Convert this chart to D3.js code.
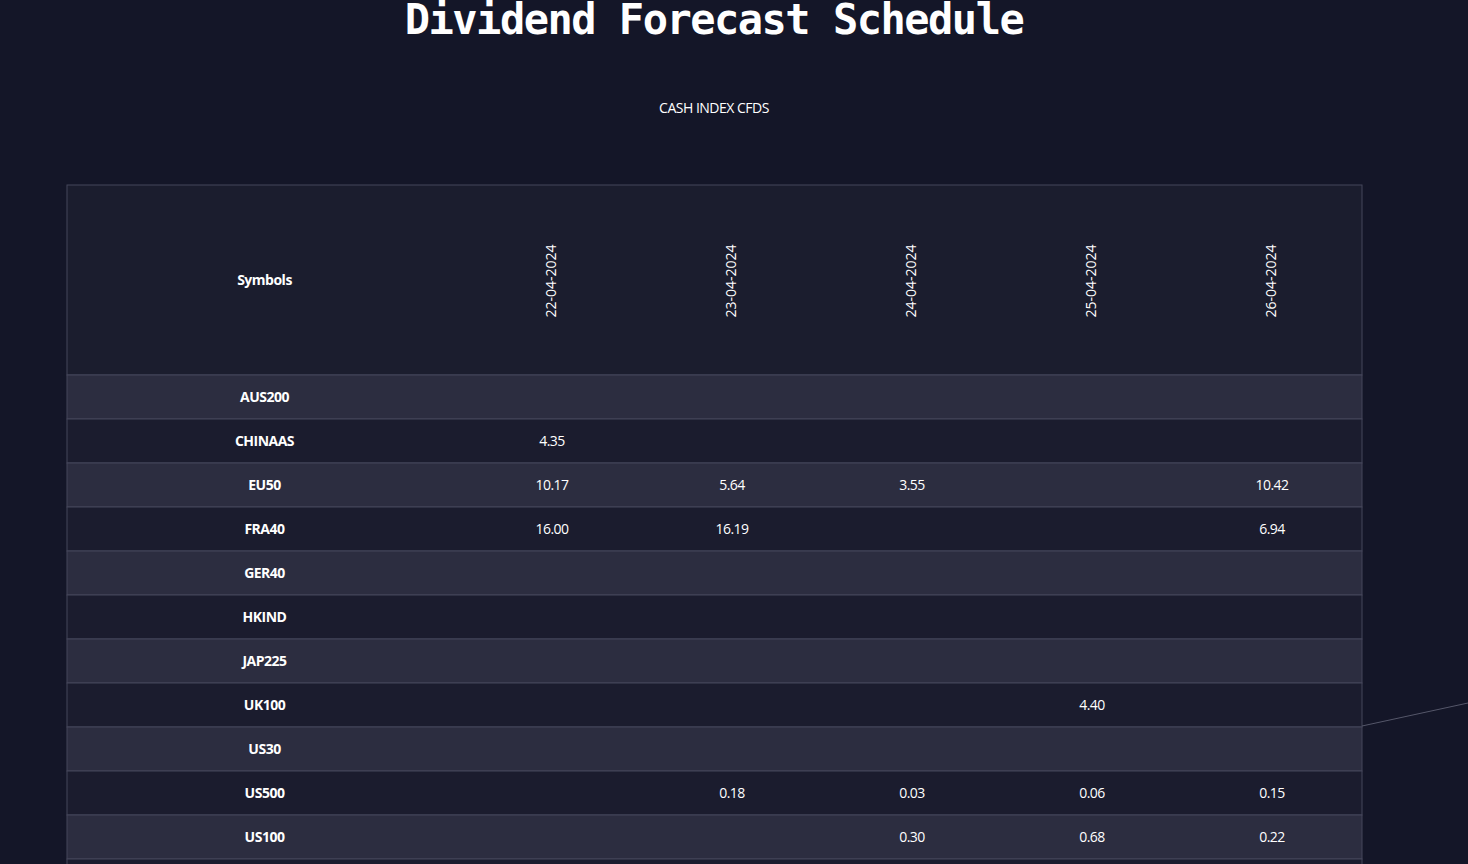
<!DOCTYPE html>
<html>
<head>
<script src="https://d3js.org/d3.v7.min.js"></script>
<style>
  body { margin: 0; background: #141628; overflow: hidden; }
</style>
</head>
<body>
<svg id="chart" width="1468" height="864"></svg>
<script>
  // data
  const symbols = ["AUS200", "CHINAAS", "EU50", "FRA40", "GER40", "HKIND", "JAP225", "UK100", "US30", "US500", "US100", "US2000"];
  const dates = ["22-04-2024", "23-04-2024", "24-04-2024", "25-04-2024", "26-04-2024"];
  // one array per date column, null = no dividend
  const d22 = [null, "4.35", "10.17", "16.00", null, null, null, null, null, null, null, null];
  const d23 = [null, null, "5.64", "16.19", null, null, null, null, null, "0.18", null, null];
  const d24 = [null, null, "3.55", null, null, null, null, null, null, "0.03", "0.30", null];
  const d25 = [null, null, null, null, null, null, null, "4.40", null, "0.06", "0.68", null];
  const d26 = [null, null, "10.42", "6.94", null, null, null, null, null, "0.15", "0.22", null];
  const columns = [d22, d23, d24, d25, d26];

  const svg = d3.select("#chart");
  const left = 67, right = 1362, headTop = 185, headBottom = 375, rowH = 44, symW = 395;

  svg.append("text").attr("x", 714).attr("y", 34).attr("text-anchor", "middle")
    .attr("fill", "#fff").attr("font-family", "DejaVu Sans Mono").attr("font-size", 42)
    .attr("font-weight", "bold").attr("letter-spacing", -1.5)
    .text("Dividend Forecast Schedule");
  svg.append("text").attr("x", 714).attr("y", 113).attr("text-anchor", "middle")
    .attr("fill", "#fff").attr("font-family", "Open Sans").attr("font-size", 14)
    .attr("letter-spacing", -0.5).text("CASH INDEX CFDS");

  const x = d3.scaleBand().domain(dates).range([left + symW, right]);
  const y = d3.scaleBand().domain(symbols).range([headBottom, headBottom + rowH * symbols.length]);

  // header
  svg.append("rect").attr("x", left).attr("y", headTop).attr("width", right - left)
    .attr("height", headBottom - headTop).attr("fill", "#1b1d2e").attr("stroke", "#44465a");
  svg.append("text").attr("x", left + symW / 2).attr("y", 285).attr("text-anchor", "middle")
    .attr("fill", "#fff").attr("font-family", "Open Sans").attr("font-weight", "bold")
    .attr("font-size", 14).attr("letter-spacing", -0.5).text("Symbols");
  svg.selectAll(".date").data(dates).enter().append("text")
    .attr("transform", d => `translate(${x(d) + x.bandwidth() / 2 + 4},281) rotate(-90)`)
    .attr("text-anchor", "middle").attr("fill", "#fff").attr("font-family", "Open Sans")
    .attr("font-size", 14).text(d => d);

  // rows
  const rows = svg.selectAll(".row").data(symbols).enter().append("g");
  rows.append("rect").attr("x", left).attr("y", d => y(d)).attr("width", right - left)
    .attr("height", rowH).attr("fill", (d, i) => i % 2 === 0 ? "#2c2d40" : "#1b1c2e")
    .attr("stroke", "#44465a");
  rows.append("text").attr("x", left + symW / 2).attr("y", d => y(d) + rowH / 2 + 5)
    .attr("text-anchor", "middle").attr("fill", "#fff").attr("font-family", "Open Sans")
    .attr("font-weight", "bold").attr("font-size", 14).attr("letter-spacing", -0.5).text(d => d);

  columns.forEach((col, ci) => {
    svg.selectAll(".v" + ci).data(col.map((v, i) => ({ v, s: symbols[i] })).filter(d => d.v))
      .enter().append("text")
      .attr("x", x(dates[ci]) + x.bandwidth() / 2)
      .attr("y", d => y(d.s) + rowH / 2 + 5)
      .attr("text-anchor", "middle").attr("fill", "#fff").attr("font-family", "Open Sans")
      .attr("font-size", 14).attr("letter-spacing", -0.5).text(d => d.v);
  });

  // faint decorative line at the right edge
  svg.append("line").attr("x1", right).attr("y1", 726).attr("x2", 1468).attr("y2", 703)
    .attr("stroke", "#55576a").attr("stroke-width", 1);
</script>
</body>
</html>
